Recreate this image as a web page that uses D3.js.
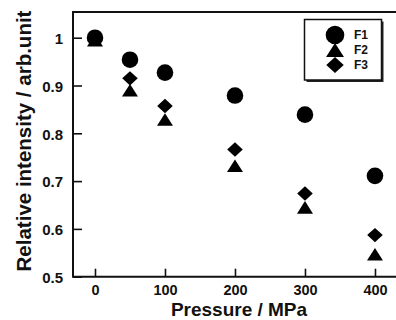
<!DOCTYPE html>
<html>
<head>
<meta charset="utf-8">
<script src="https://cdn.jsdelivr.net/npm/d3@7"></script>
<style>
  html, body { margin: 0; padding: 0; background: #fff; }
  svg { display: block; }
</style>
</head>
<body>
<svg id="chart" width="396" height="320"></svg>
<script>
// ─── Data ─────────────────────────────────────────────────────────────
const pressures = [0, 50, 100, 200, 300, 400];
const f1Values = [1.0, 0.954, 0.927, 0.879, 0.839, 0.711];
const f2Values = [0.995, 0.89, 0.829, 0.732, 0.645, 0.547];
const f3Values = [1.0, 0.915, 0.857, 0.766, 0.674, 0.587];
const xTicks = [0, 100, 200, 300, 400];
const yTicks = [0.5, 0.6, 0.7, 0.8, 0.9, 1];
const seriesNames = ["F1", "F2", "F3"];

// ─── Layout ───────────────────────────────────────────────────────────
const width = 396, height = 320;
const plot = { left: 73, right: 398, top: 12, bottom: 276.7 };
const font = "'Liberation Sans', Arial, Helvetica, sans-serif";

const svg = d3.select("#chart").attr("viewBox", `0 0 ${width} ${height}`);

// ─── Scales ───────────────────────────────────────────────────────────
const xScale = d3.scaleLinear().domain([-31.4, 432.9]).range([plot.left, plot.right]);
const yScale = d3.scaleLinear().domain([0.5, 1.0538]).range([plot.bottom, plot.top]);

// ─── Marker shapes ────────────────────────────────────────────────────
function markerPath(kind, s) {
  if (kind === "F1") {
    const r = 8.3 * s;
    return `M${-r},0A${r},${r} 0 1,0 ${r},0A${r},${r} 0 1,0 ${-r},0Z`;
  }
  if (kind === "F2") {
    const hw = 8 * s, hh = 6.3 * s;
    return `M0,${-hh}L${hw},${hh}L${-hw},${hh}Z`;
  }
  const hw = 7.8 * s, hh = 7.2 * s;
  return `M0,${-hh}L${hw},0L0,${hh}L${-hw},0Z`;
}

// ─── Axes ─────────────────────────────────────────────────────────────
const xAxis = svg.append("g")
  .attr("transform", `translate(0,${plot.bottom})`)
  .call(d3.axisBottom(xScale).tickValues(xTicks).tickSizeInner(-8).tickSizeOuter(0).tickPadding(8.5));

const yAxis = svg.append("g")
  .attr("transform", `translate(${plot.left},0)`)
  .call(d3.axisLeft(yScale).tickValues(yTicks).tickSizeInner(-9).tickSizeOuter(0).tickPadding(10)
    .tickFormat((d) => (d === 1 ? "1" : d.toFixed(1))));

[xAxis, yAxis].forEach((ax) => {
  ax.select(".domain").remove();
  ax.selectAll(".tick line").attr("stroke", "#111").attr("stroke-width", 1.6);
  ax.selectAll(".tick text")
    .attr("font-family", font)
    .attr("font-size", 15)
    .attr("font-weight", "bold")
    .attr("fill", "#111");
});
xAxis.selectAll(".tick text").attr("font-size", 14.5);
yAxis.selectAll(".tick text").attr("dy", "0.38em");

// ─── Frame (left, top, bottom) ───────────────────────────────────────
svg.append("path")
  .attr("d", `M${plot.right},${plot.top}H${plot.left}V${plot.bottom}H${plot.right}`)
  .attr("fill", "none")
  .attr("stroke", "#111")
  .attr("stroke-width", 2);

// ─── Points ───────────────────────────────────────────────────────────
const series = [
  { name: "F1", values: f1Values },
  { name: "F2", values: f2Values },
  { name: "F3", values: f3Values },
];

const drawOrder = [series[1], series[2], series[0]];
drawOrder.forEach((s) => {
  svg.append("g").selectAll("path")
    .data(pressures.map((p, i) => ({ x: p, y: s.values[i] })))
    .join("path")
    .attr("transform", (d) => `translate(${xScale(d.x)},${yScale(d.y)})`)
    .attr("d", markerPath(s.name, 1))
    .attr("fill", "#000");
});

// ─── Legend ───────────────────────────────────────────────────────────
const legend = svg.append("g");
legend.append("rect")
  .attr("x", 306.5).attr("y", 21.5).attr("width", 77).attr("height", 60.5)
  .attr("fill", "#222");
legend.append("rect")
  .attr("x", 304.5).attr("y", 19.5).attr("width", 77).attr("height", 60.5)
  .attr("fill", "#fff").attr("stroke", "#111").attr("stroke-width", 1.5);

seriesNames.forEach((name, i) => {
  const cy = 35 + i * 15;
  legend.append("path")
    .attr("transform", `translate(335,${cy})`)
    .attr("d", markerPath(name, 1.12))
    .attr("fill", "#000");
  legend.append("text")
    .attr("x", 354)
    .attr("y", cy + 4.3)
    .attr("font-family", font)
    .attr("font-size", 12)
    .attr("font-weight", "bold")
    .attr("fill", "#111")
    .text(name);
});

// ─── Axis titles ──────────────────────────────────────────────────────
svg.append("text")
  .attr("x", 239)
  .attr("y", 315.9)
  .attr("text-anchor", "middle")
  .attr("font-family", font)
  .attr("font-size", 19)
  .attr("font-weight", "bold")
  .attr("fill", "#111")
  .text("Pressure / MPa");

svg.append("text")
  .attr("transform", "translate(31,141) rotate(-90)")
  .attr("text-anchor", "middle")
  .attr("font-family", font)
  .attr("font-size", 20.5)
  .attr("font-weight", "bold")
  .attr("fill", "#111")
  .text("Relative intensity / arb.unit");
</script>
</body>
</html>
